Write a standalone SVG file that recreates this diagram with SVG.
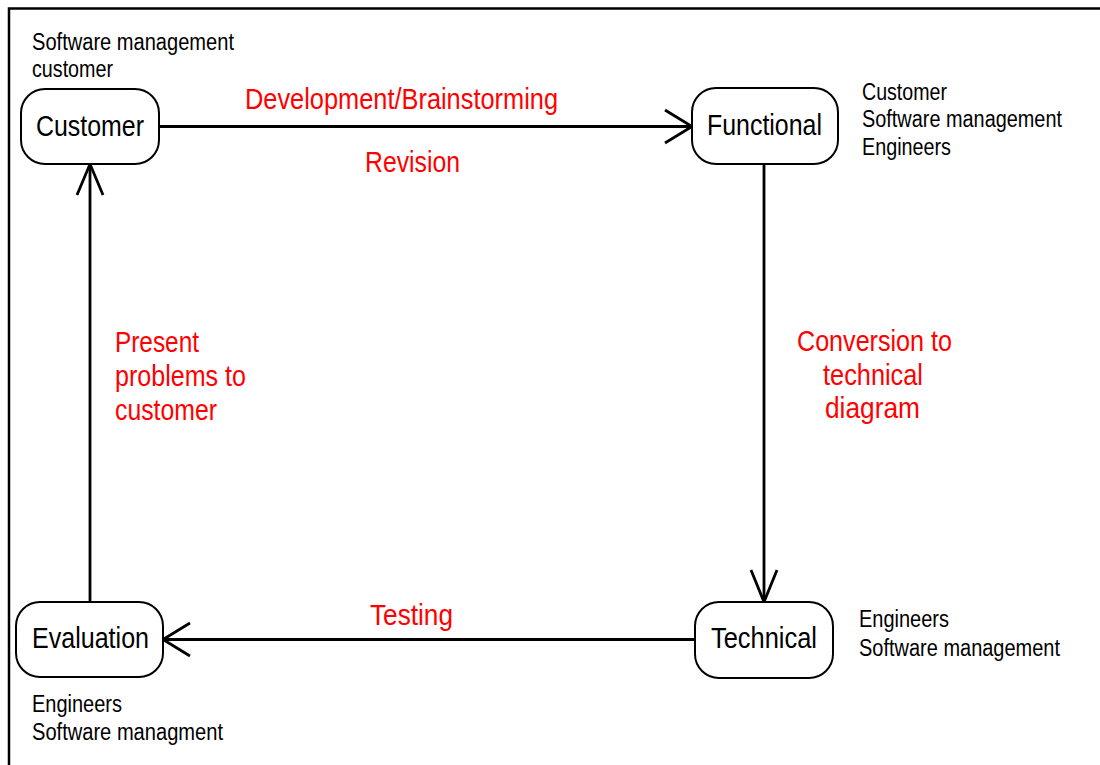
<svg xmlns="http://www.w3.org/2000/svg" width="1100" height="765" viewBox="0 0 1100 765">
<style>
.frame{fill:none;stroke:#000;stroke-width:2.5}
.node rect{fill:#fff;stroke:#000;stroke-width:2}
.lbl{font-family:"Liberation Sans",Arial,sans-serif;font-size:29px;fill:#000}
.note{font-family:"Liberation Sans",Arial,sans-serif;font-size:23px;fill:#000}
.red{font-family:"Liberation Sans",Arial,sans-serif;font-size:29px;fill:#ff0000}
.edge{fill:none;stroke:#000;stroke-width:2.8;stroke-linecap:butt;stroke-linejoin:miter}
</style>
<rect width="1100" height="765" fill="#fff"/>
<rect class="frame" x="9" y="8.5" width="1110" height="780"/>

<g id="connectors">
  <path class="edge" d="M159 126.5H692"/>
  <path class="edge" d="M665 110L692 126.5L665 143"/>
  <path class="edge" d="M764 164V602"/>
  <path class="edge" d="M751 570L764 602L777 570"/>
  <path class="edge" d="M695 639.5H163"/>
  <path class="edge" d="M190 623L163 639.5L190 656"/>
  <path class="edge" d="M90 602V164"/>
  <path class="edge" d="M77 195L90 164L103 195"/>
</g>

<g id="node-customer" class="node">
  <rect x="21" y="89" width="138" height="75" rx="24"/>
  <text class="lbl" x="36" y="136" textLength="108" lengthAdjust="spacingAndGlyphs">Customer</text>
</g>
<g id="node-functional" class="node">
  <rect x="692" y="88" width="146" height="76" rx="24"/>
  <text class="lbl" x="707" y="135" textLength="115" lengthAdjust="spacingAndGlyphs">Functional</text>
</g>
<g id="node-technical" class="node">
  <rect x="695" y="602" width="138" height="76" rx="24"/>
  <text class="lbl" x="711" y="648" textLength="106" lengthAdjust="spacingAndGlyphs">Technical</text>
</g>
<g id="node-evaluation" class="node">
  <rect x="16" y="602" width="147" height="75" rx="24"/>
  <text class="lbl" x="32" y="648" textLength="117" lengthAdjust="spacingAndGlyphs">Evaluation</text>
</g>

<g id="notes">
  <text class="note" x="32" y="50" textLength="202" lengthAdjust="spacingAndGlyphs">Software management</text>
  <text class="note" x="32" y="77" textLength="81" lengthAdjust="spacingAndGlyphs">customer</text>
  <text class="note" x="862" y="100" textLength="85" lengthAdjust="spacingAndGlyphs">Customer</text>
  <text class="note" x="862" y="127" textLength="200" lengthAdjust="spacingAndGlyphs">Software management</text>
  <text class="note" x="862" y="155" textLength="89" lengthAdjust="spacingAndGlyphs">Engineers</text>
  <text class="note" x="859" y="627" textLength="90" lengthAdjust="spacingAndGlyphs">Engineers</text>
  <text class="note" x="859" y="656" textLength="201" lengthAdjust="spacingAndGlyphs">Software management</text>
  <text class="note" x="32" y="712" textLength="90" lengthAdjust="spacingAndGlyphs">Engineers</text>
  <text class="note" x="32" y="740" textLength="191" lengthAdjust="spacingAndGlyphs">Software managment</text>
</g>

<g id="edge-labels">
  <text class="red" x="245" y="109" textLength="313" lengthAdjust="spacingAndGlyphs">Development/Brainstorming</text>
  <text class="red" x="365" y="172" textLength="95" lengthAdjust="spacingAndGlyphs">Revision</text>
  <text class="red" x="797" y="351" textLength="155" lengthAdjust="spacingAndGlyphs">Conversion to</text>
  <text class="red" x="823" y="385" textLength="100" lengthAdjust="spacingAndGlyphs">technical</text>
  <text class="red" x="825" y="418" textLength="95" lengthAdjust="spacingAndGlyphs">diagram</text>
  <text class="red" x="115" y="352" textLength="84" lengthAdjust="spacingAndGlyphs">Present</text>
  <text class="red" x="115" y="386" textLength="131" lengthAdjust="spacingAndGlyphs">problems to</text>
  <text class="red" x="115" y="420" textLength="102" lengthAdjust="spacingAndGlyphs">customer</text>
  <text class="red" x="370" y="625" textLength="83" lengthAdjust="spacingAndGlyphs">Testing</text>
</g>
</svg>
